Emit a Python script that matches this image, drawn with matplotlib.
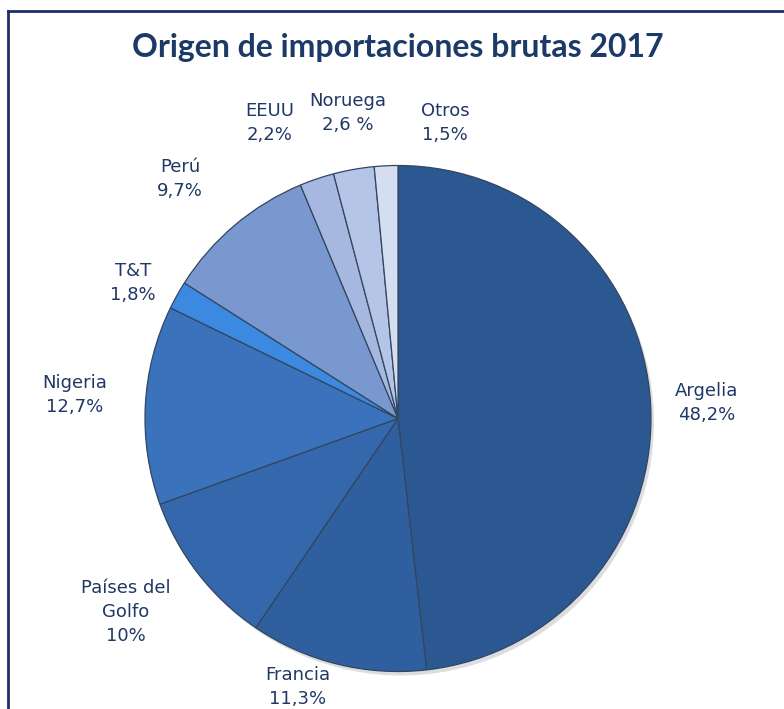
import matplotlib.pyplot as plt
from matplotlib.lines import Line2D

# datos
paises = ["Argelia", "Francia", "Países del\nGolfo", "Nigeria", "T&T",
          "Perú", "EEUU", "Noruega", "Otros"]
cuotas = [48.2, 11.3, 10.0, 12.7, 1.8, 9.7, 2.2, 2.6, 1.5]
etiquetas_pct = ["48,2%", "11,3%", "10%", "12,7%", "1,8%",
                 "9,7%", "2,2%", "2,6 %", "1,5%"]

colores = ["#2b5890", "#2f5f9e", "#3467ab", "#3a73bc", "#3b89e0",
           "#7a98d0", "#a6b8df", "#b5c5e7", "#d5def1"]

# posiciones de las etiquetas (px desde arriba-izquierda)
lab_x = [707, 298, 126, 75, 133, 180, 270, 348, 445]
lab_y = [403, 687, 612, 395, 283, 179, 123, 113, 123]

W, H = 784, 709
fig = plt.figure(figsize=(W / 100, H / 100), dpi=100)
ax = fig.add_axes([0, 0, 1, 1])

cx, cy, r = 398, H - 418.5, 253

# sombra
sombra = plt.Circle((cx + 3, cy - 4), r, color="#9aa0a8", alpha=0.35, lw=0)
ax.add_patch(sombra)

ax.pie(cuotas, colors=colores, startangle=90, counterclock=False,
       center=(cx, cy), radius=r,
       wedgeprops=dict(edgecolor="#33465f", linewidth=0.9))

for nombre, pct, x, y in zip(paises, etiquetas_pct, lab_x, lab_y):
    ax.text(x, H - y, nombre + "\n" + pct, ha="center", va="center",
            fontsize=13, color="#1f3864", family="DejaVu Sans",
            linespacing=1.4)

ax.set_xlim(0, W)
ax.set_ylim(0, H)
ax.set_aspect("equal")
ax.axis("off")

fig.text(0.508, 1 - 48 / H, "Origen de importaciones brutas 2017",
         ha="center", va="center", fontsize=23, fontweight="bold",
         color="#1b3a68", family="Lato")

# marco (recortado a la derecha y abajo)
fig.add_artist(Line2D([7.5 / W, 1], [1 - 10.5 / H, 1 - 10.5 / H],
                      transform=fig.transFigure, color="#1c2f6b", lw=2))
fig.add_artist(Line2D([7.5 / W, 7.5 / W], [0, 1 - 10.5 / H],
                      transform=fig.transFigure, color="#1c2f6b", lw=2))

fig.savefig("out.png", dpi=100)
